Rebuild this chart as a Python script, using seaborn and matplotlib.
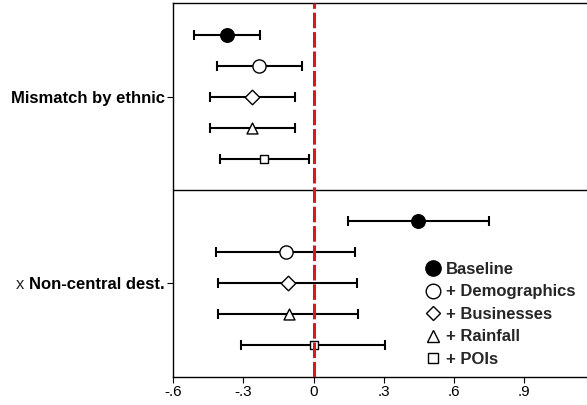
import matplotlib
matplotlib.use("Agg")
import matplotlib.pyplot as plt
import seaborn as sns
import pandas as pd
import numpy as np
from matplotlib.lines import Line2D

# Coefficient estimates with 95% confidence intervals, one row per model
models = ["Baseline", "+ Demographics", "+ Businesses", "+ Rainfall", "+ POIs"]
terms = ["Mismatch by ethnic", "Non-central dest."]

est_ethnic = [-0.370, -0.233, -0.263, -0.265, -0.213]
lo_ethnic = [-0.510, -0.414, -0.445, -0.445, -0.402]
hi_ethnic = [-0.227, -0.051, -0.081, -0.081, -0.020]

est_noncentral = [0.448, -0.119, -0.110, -0.105, 0.000]
lo_noncentral = [0.146, -0.418, -0.410, -0.407, -0.309]
hi_noncentral = [0.751, 0.179, 0.188, 0.192, 0.307]

xticks = [-0.6, -0.3, 0, 0.3, 0.6, 0.9]
xticklabels = ["-.6", "-.3", "0", ".3", ".6", ".9"]

marker_shapes = ["o", "o", "D", "^", "s"]
marker_faces = ["black", "white", "white", "white", "white"]
marker_sizes = [95, 90, 55, 62, 40]
legend_sizes = [11.0, 10.5, 7.0, 8.0, 6.5]

sns.set_theme(style="white")
plt.rcParams["font.family"] = ["Liberation Sans", "DejaVu Sans"]

rows = []
for t_i, (est, lo, hi) in enumerate([(est_ethnic, lo_ethnic, hi_ethnic),
                                      (est_noncentral, lo_noncentral, hi_noncentral)]):
    for m_i, m in enumerate(models):
        rows.append({"term": terms[t_i], "model": m, "est": est[m_i],
                     "lo": lo[m_i], "hi": hi[m_i], "pos": t_i * 6 + m_i})
df = pd.DataFrame(rows)

fig = plt.figure(figsize=(5.87, 4.05), dpi=100)
ax = fig.add_axes([173.3 / 587, 28.5 / 405, (587 - 173.3) / 587, 373.5 / 405])

# confidence intervals
ax.errorbar(x=df["est"], y=df["pos"],
            xerr=[df["est"] - df["lo"], df["hi"] - df["est"]],
            fmt="none", ecolor="black", elinewidth=1.5, capsize=3.3,
            capthick=1.5, zorder=2)

# point estimates
for m_i, m in enumerate(models):
    sub = df[df["model"] == m]
    sns.scatterplot(data=sub, x="est", y="pos", marker=marker_shapes[m_i],
                    s=marker_sizes[m_i], color=marker_faces[m_i],
                    edgecolor="black", linewidth=1.0, ax=ax, zorder=3,
                    legend=False)

# reference line at zero and panel divider
ax.axvline(0, color="#da161f", lw=2.2, dashes=(5.1, 1.25), zorder=4)
ax.axhline(5, color="black", lw=1.0, zorder=1)

ax.set_xlim(-0.6, 1.17)
ax.set_ylim(11.02, -1.03)
ax.set_xticks(xticks)
ax.set_xticklabels(xticklabels, fontsize=11)
ax.set_yticks([2, 8])
ax.set_yticklabels(terms, fontsize=12, fontweight="bold")
ax.set_xlabel("")
ax.set_ylabel("")

for side in ["left", "bottom", "top"]:
    ax.spines[side].set_visible(True)
    ax.spines[side].set_color("black")
    ax.spines[side].set_linewidth(1.0)
ax.spines["right"].set_visible(False)
ax.tick_params(axis="both", which="both", direction="out", length=4,
               width=0.8, color="black", labelcolor="black", pad=2,
               left=True, bottom=True)

# legend
handles = [Line2D([0], [0], marker=marker_shapes[i], linestyle="none",
                  markerfacecolor=marker_faces[i], markeredgecolor="black",
                  markeredgewidth=1.0, markersize=legend_sizes[i])
           for i in range(len(models))]
leg = ax.legend(handles, models, loc="upper left", bbox_to_anchor=(0.607, 0.307),
                frameon=False, borderaxespad=0, borderpad=0,
                handlelength=1.0, handletextpad=0.3, labelspacing=0.45,
                prop={"weight": "bold", "size": 12, "family": "Liberation Sans"})

# prefix on the interaction term label
fig.canvas.draw()
renderer = fig.canvas.get_renderer()
lab = ax.get_yticklabels()[1]
bb = lab.get_window_extent(renderer)
fig.text(bb.x0 - 5, (bb.y0 + bb.y1) / 2, "x", ha="right", va="center",
         fontsize=12, transform=None, family="Liberation Sans")

fig.savefig("out.png", dpi=100)
